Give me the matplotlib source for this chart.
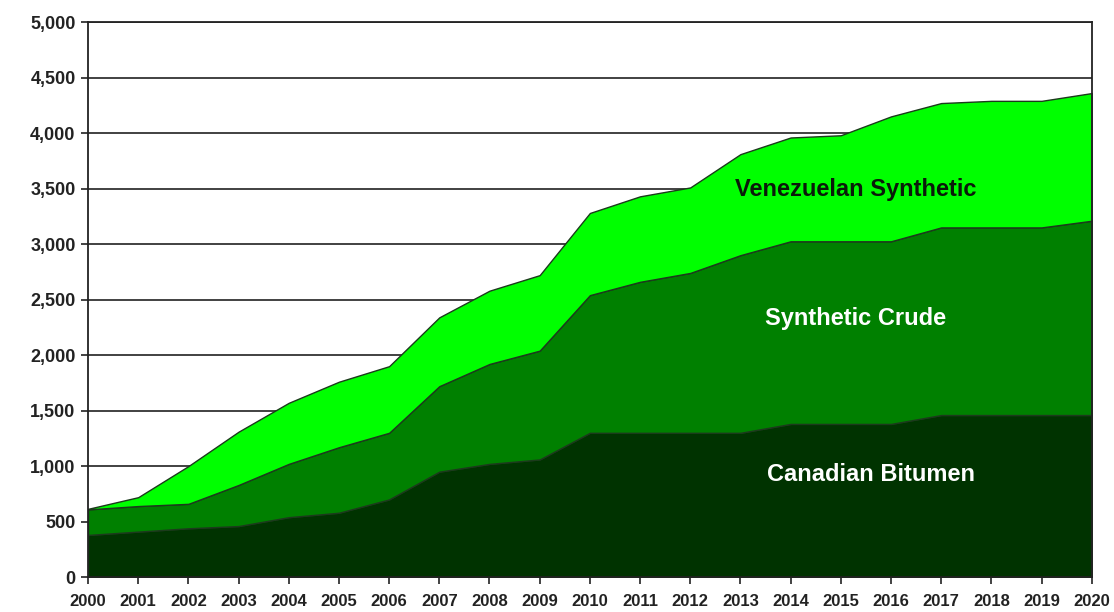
import numpy as np
import matplotlib
matplotlib.use("Agg")
import matplotlib.pyplot as plt

plt.rcParams['font.family'] = ['Liberation Sans', 'DejaVu Sans']

# production outlook, thousand b/d
years = list(range(2000, 2021))
bitumen = [380, 410, 440, 460, 540, 580, 700, 950, 1020, 1060, 1300,
           1300, 1300, 1300, 1380, 1380, 1380, 1460, 1460, 1460, 1460]
synth_top = [610, 640, 660, 830, 1020, 1170, 1300, 1720, 1920, 2040, 2540,
             2660, 2740, 2900, 3025, 3025, 3025, 3150, 3150, 3150, 3210]
total = [615, 720, 1000, 1310, 1570, 1760, 1900, 2340, 2580, 2720, 3280,
         3430, 3510, 3810, 3960, 3980, 4150, 4270, 4290, 4290, 4360]

synthetic = [s - b for s, b in zip(synth_top, bitumen)]
venezuelan = [t - s for t, s in zip(total, synth_top)]

fig = plt.figure(figsize=(11.14, 6.12), dpi=100)
ax = fig.add_axes([0.079, 0.057, 0.901, 0.907])

ax.stackplot(years, bitumen, synthetic, venezuelan,
             colors=['#003300', '#008000', '#00ff00'],
             edgecolor='#1c3a1c', linewidth=1.0, zorder=2)

ax.set_xlim(2000, 2020)
ax.set_ylim(0, 5000)
ax.set_xticks(years)
ax.set_yticks(np.arange(0, 5001, 500))
ax.set_yticklabels([f"{v:,}" for v in range(0, 5001, 500)])
ax.yaxis.grid(True, color='#333333', linewidth=1.3)
ax.set_axisbelow(True)

for lab in ax.get_yticklabels():
    lab.set_fontsize(13)
    lab.set_fontweight('bold')
    lab.set_color('#222222')
for lab in ax.get_xticklabels():
    lab.set_fontsize(12)
    lab.set_fontweight('bold')
    lab.set_color('#222222')

ax.tick_params(axis='both', direction='out', length=5, width=1.2, color='#222222')
ax.tick_params(axis='y', pad=4)
ax.tick_params(axis='x', pad=7)
for side in ['left', 'bottom', 'right', 'top']:
    ax.spines[side].set_color('#222222')
    ax.spines[side].set_linewidth(1.3)

ax.text(2015.3, 3490, 'Venezuelan Synthetic', ha='center', va='center',
        fontsize=17, fontweight='bold', color='#0a1a0a', zorder=5)
ax.text(2015.3, 2330, 'Synthetic Crude', ha='center', va='center',
        fontsize=17, fontweight='bold', color='white', zorder=5)
ax.text(2015.6, 920, 'Canadian Bitumen', ha='center', va='center',
        fontsize=17, fontweight='bold', color='white', zorder=5)

fig.savefig('out.png', dpi=100)
